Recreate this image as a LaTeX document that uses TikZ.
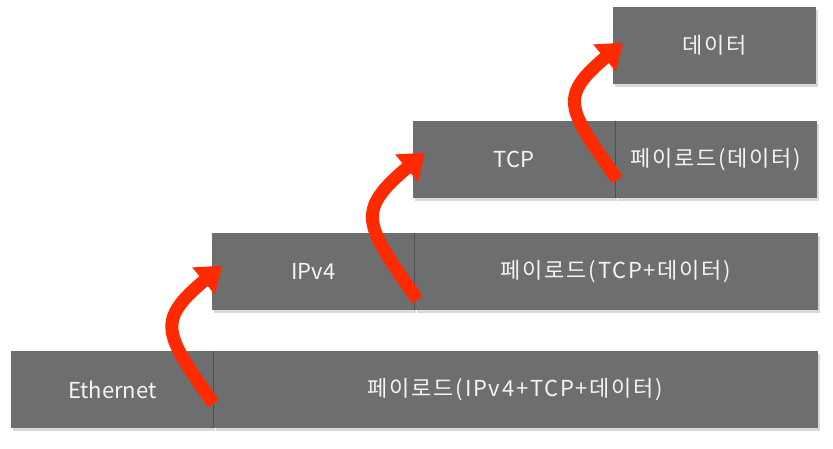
\documentclass[tikz,border=0pt]{standalone}
\usepackage{fontspec}
\setmainfont{Noto Sans CJK KR}
\newfontfamily\kor[LetterSpace=8]{Noto Sans CJK KR}
\usetikzlibrary{arrows.meta, positioning, shadows}
\definecolor{slab}{HTML}{6D6E70}
\definecolor{seam}{HTML}{4E4F51}
\definecolor{hot}{HTML}{FF2A00}
\definecolor{paper}{HTML}{F4F4F4}

\begin{document}
\begin{tikzpicture}[x=1pt, y=1pt,
    every node/.style={font=\fontsize{22}{26}\selectfont, text=paper},
    hdr/.style={rectangle, fill=slab, inner sep=0pt,
                minimum width=202pt, minimum height=77pt,
                drop shadow={shadow xshift=2pt, shadow yshift=-2.5pt, opacity=0.3}},
    pay/.style={hdr, font=\kor\fontsize{22}{26}\selectfont},
    divider/.style={draw=seam, line width=1.5pt},
    flow/.style={draw=hot, line width=13pt, -{Triangle[length=24pt, width=34pt]}}
  ]
    \fill[white] (0,0) rectangle (833,448);
    \useasboundingbox (0,0) rectangle (833,448);

    \node[hdr, anchor=north west] (eth) at (11,97) {Ethernet};
    \node[pay, minimum width=604pt, right=0pt of eth] (ethpay) {페이로드(IPv4+TCP+데이터)};
    \node[hdr, anchor=north west] (ip) at (212,215) {IPv4};
    \node[pay, minimum width=403pt, right=0pt of ip] (ippay) {페이로드(TCP+데이터)};
    \node[hdr, anchor=north west] (tcp) at (413,327) {TCP};
    \node[pay, minimum width=201pt, right=0pt of tcp] (tcppay) {페이로드(데이터)};
    \node[pay, minimum width=203pt, anchor=north west] (data) at (613,441) {데이터};

    \draw[divider] (ethpay.north west) -- (ethpay.south west);
    \draw[divider] (ippay.north west) -- (ippay.south west);
    \draw[divider] (tcppay.north west) -- (tcppay.south west);

    % payload of one layer is the next layer up
    \draw[flow] ([yshift=-14pt]ethpay.west) to[out=125, in=220, looseness=1.6] ([xshift=10pt, yshift=6pt]ip.west);
    \draw[flow] ([xshift=3pt, yshift=-28pt]ippay.west) to[out=125, in=220, looseness=1.6] ([xshift=12pt, yshift=7pt]tcp.west);
    \draw[flow] ([xshift=2pt, yshift=-20pt]tcppay.west) to[out=125, in=220, looseness=1.6] ([xshift=10pt, yshift=3pt]data.west);
\end{tikzpicture}
\end{document}
